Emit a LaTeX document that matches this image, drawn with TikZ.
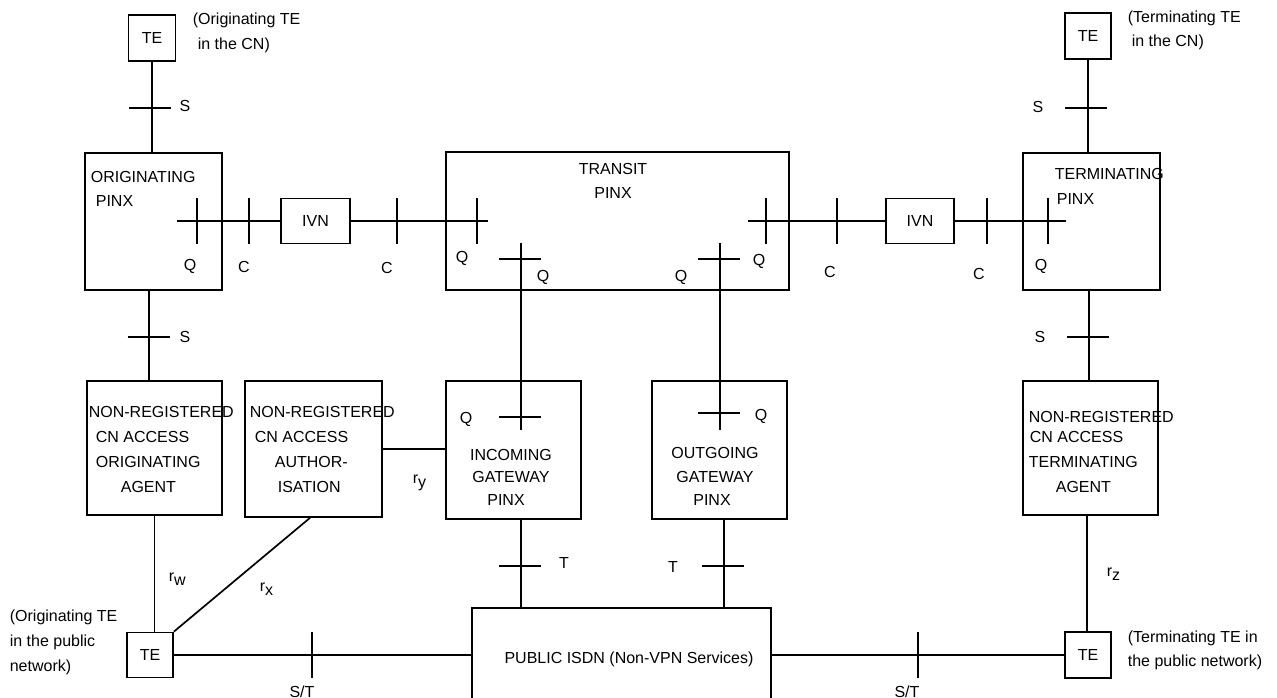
\documentclass[tikz,border=0pt]{standalone}
\usepackage{fontspec}
\setmainfont{Liberation Sans}
\begin{document}
\begin{tikzpicture}[x=1pt,y=-1pt,line width=1.7pt,
  box/.style={draw,rectangle,inner sep=0pt,line width=1.7pt,
    font=\fontsize{16}{16}\selectfont,text height=11.5pt,text depth=0pt},
  txt/.style={inner sep=0pt,font=\fontsize{16}{16}\selectfont,
    text height=11.5pt,text depth=0pt},
  lft/.style={txt,anchor=west},
  rsub/.style={inner sep=0pt,font=\fontsize{16}{16}\selectfont,anchor=base west}]
\newcommand\htick[1]{\draw ([xshift=-21pt]#1) -- ([xshift=21pt]#1);}
\newcommand\vtick[1]{\draw ([yshift=-23pt]#1) -- ([yshift=23pt]#1);}
\newcommand\rlab[1]{r\raisebox{-4pt}{#1}}
\useasboundingbox (0,0) rectangle (1277,698);
\clip (0,0) rectangle (1277,698);

% ---- boxes ----
\node[box,minimum width=47pt,minimum height=46pt] (teA) at (152,38) {TE};
\node[box,minimum width=46pt,minimum height=46pt] (teB) at (1088,36) {TE};
\node[box,minimum width=137pt,minimum height=137pt] (origPinx) at (153.5,221.5) {};
\node[box,minimum width=137pt,minimum height=137pt] (termPinx) at (1091.5,221.5) {};
\node[box,minimum width=343pt,minimum height=138pt] (transit) at (617.5,221) {};
\node[box,minimum width=69pt,minimum height=45pt] (ivnA) at (315.5,221) {IVN};
\node[box,minimum width=68pt,minimum height=45pt] (ivnB) at (920,221) {IVN};
\node[box,minimum width=135pt,minimum height=134pt] (nraO) at (154.5,448) {};
\node[box,minimum width=137pt,minimum height=136pt] (nraA) at (313.5,449) {};
\node[box,minimum width=135pt,minimum height=138pt] (inGw) at (513.5,450) {};
\node[box,minimum width=135pt,minimum height=138pt] (outGw) at (719.5,450) {};
\node[box,minimum width=135pt,minimum height=134pt] (nraT) at (1090.5,448) {};
\node[box,minimum width=299pt,minimum height=100pt] (isdn) at (621.5,658) {};
\node[box,minimum width=46pt,minimum height=45pt] (teC) at (150,655) {TE};
\node[box,minimum width=46pt,minimum height=46pt] (teD) at (1088,655) {TE};

% ---- free line ends inside the PINX boxes ----
\coordinate (qO) at (177,221);
\coordinate (qTl) at (488,221);
\coordinate (qTr) at (748,221);
\coordinate (qT) at (1066,221);
\coordinate (qTin) at (521,243);
\coordinate (qIn) at (521,430);
\coordinate (qTout) at (720,243);
\coordinate (qOut) at (720,430);

% ---- connectors ----
\draw (teA.south) -- (teA.south |- origPinx.north);
\draw (teB.south) -- (teB.south |- termPinx.north);
\draw (qO) -- (ivnA.west);
\draw (ivnA.east) -- (qTl);
\draw (qTr) -- (ivnB.west);
\draw (ivnB.east) -- (qT);
\draw (qTin) -- (qIn);
\draw (qTout) -- (qOut);
\draw ([xshift=-4.5pt]origPinx.south) -- ([xshift=-4.5pt]origPinx.south |- nraO.north);
\draw ([xshift=-2.5pt]termPinx.south) -- ([xshift=-2.5pt]termPinx.south |- nraT.north);
\draw (nraA.east) -- (nraA.east -| inGw.west);
\draw ([xshift=7.5pt]inGw.south) -- ([xshift=7.5pt]inGw.south |- isdn.north);
\draw ([xshift=4.5pt]outGw.south) -- ([xshift=4.5pt]outGw.south |- isdn.north);
\draw (nraO.south) -- (nraO.south |- teC.north);
\draw ([xshift=-3.5pt]nraA.south) -- (teC.north east);
\draw ([xshift=-3.5pt]nraT.south) -- ([xshift=-3.5pt]nraT.south |- teD.north);
\draw (teC.east) -- (teC.east -| isdn.west);
\draw (isdn.east |- teD.west) -- (teD.west);

% ---- reference point ticks ----
\htick{150,108}
\htick{1086,108}
\vtick{197,221}
\vtick{249,221}
\vtick{397,221}
\vtick{477,221}
\vtick{766,221}
\vtick{837,221}
\vtick{987,221}
\vtick{1048,221}
\htick{520,259}
\htick{719,259}
\htick{148.5,337}
\htick{1088,337}
\htick{520,417}
\htick{719,413}
\htick{520,566}
\htick{723,566}
\vtick{312,655}
\vtick{918,655}

% ---- texts ----
\node[lft] at (192,19) {(Originating TE};
\node[lft] at (197,44) {in the CN)};
\node[lft] at (1127,17) {(Terminating TE};
\node[lft] at (1131,41) {in the CN)};
\node[txt] at (185,106) {S};
\node[txt] at (1038,107) {S};
\node[lft] at (90,177) {ORIGINATING};
\node[lft] at (95,201) {PINX};
\node[txt] at (613,169) {TRANSIT};
\node[txt] at (613,193) {PINX};
\node[lft] at (1054,174) {TERMINATING};
\node[lft] at (1056,199) {PINX};
\node[txt] at (190,265) {Q};
\node[txt] at (244,267) {C};
\node[txt] at (387,268) {C};
\node[txt] at (462,257) {Q};
\node[txt] at (543,276) {Q};
\node[txt] at (681,276) {Q};
\node[txt] at (759,260) {Q};
\node[txt] at (830,272) {C};
\node[txt] at (979,274) {C};
\node[txt] at (1041,265) {Q};
\node[txt] at (185,337) {S};
\node[txt] at (1040,337) {S};

\node[lft] at (88,412) {NON-REGISTERED};
\node[lft] at (95,437) {CN ACCESS};
\node[lft] at (95,462) {ORIGINATING};
\node[lft] at (120,487) {AGENT};

\node[lft] at (249,412) {NON-REGISTERED};
\node[lft] at (254,437) {CN ACCESS};
\node[lft] at (274,462) {AUTHOR-};
\node[lft] at (277,487) {ISATION};

\node[txt] at (466,418) {Q};
\node[txt] at (511,455) {INCOMING};
\node[txt] at (511,477) {GATEWAY};
\node[txt] at (506,500) {PINX};

\node[txt] at (761,415) {Q};
\node[txt] at (715,453) {OUTGOING};
\node[txt] at (715,477) {GATEWAY};
\node[txt] at (712,500) {PINX};

\node[lft] at (1028,417) {NON-REGISTERED};
\node[lft] at (1029,437) {CN ACCESS};
\node[lft] at (1028,462) {TERMINATING};
\node[lft] at (1055,487) {AGENT};

\node[txt] at (564,563) {T};
\node[txt] at (673,567) {T};

\node[rsub] at (412,483) {\rlab{y}};
\node[rsub] at (168,581) {\rlab{w}};
\node[rsub] at (259,591) {\rlab{x}};
\node[rsub] at (1106,576) {\rlab{z}};

\node[lft] at (9,616) {(Originating TE};
\node[lft] at (9,641) {in the public};
\node[lft] at (9,666) {network)};
\node[txt] at (629,658) {PUBLIC ISDN (Non-VPN Services)};
\node[lft] at (1127,637) {(Terminating TE in};
\node[lft] at (1127,661) {the public network)};
\node[txt] at (302,692) {S/T};
\node[txt] at (907,692) {S/T};
\end{tikzpicture}
\end{document}
